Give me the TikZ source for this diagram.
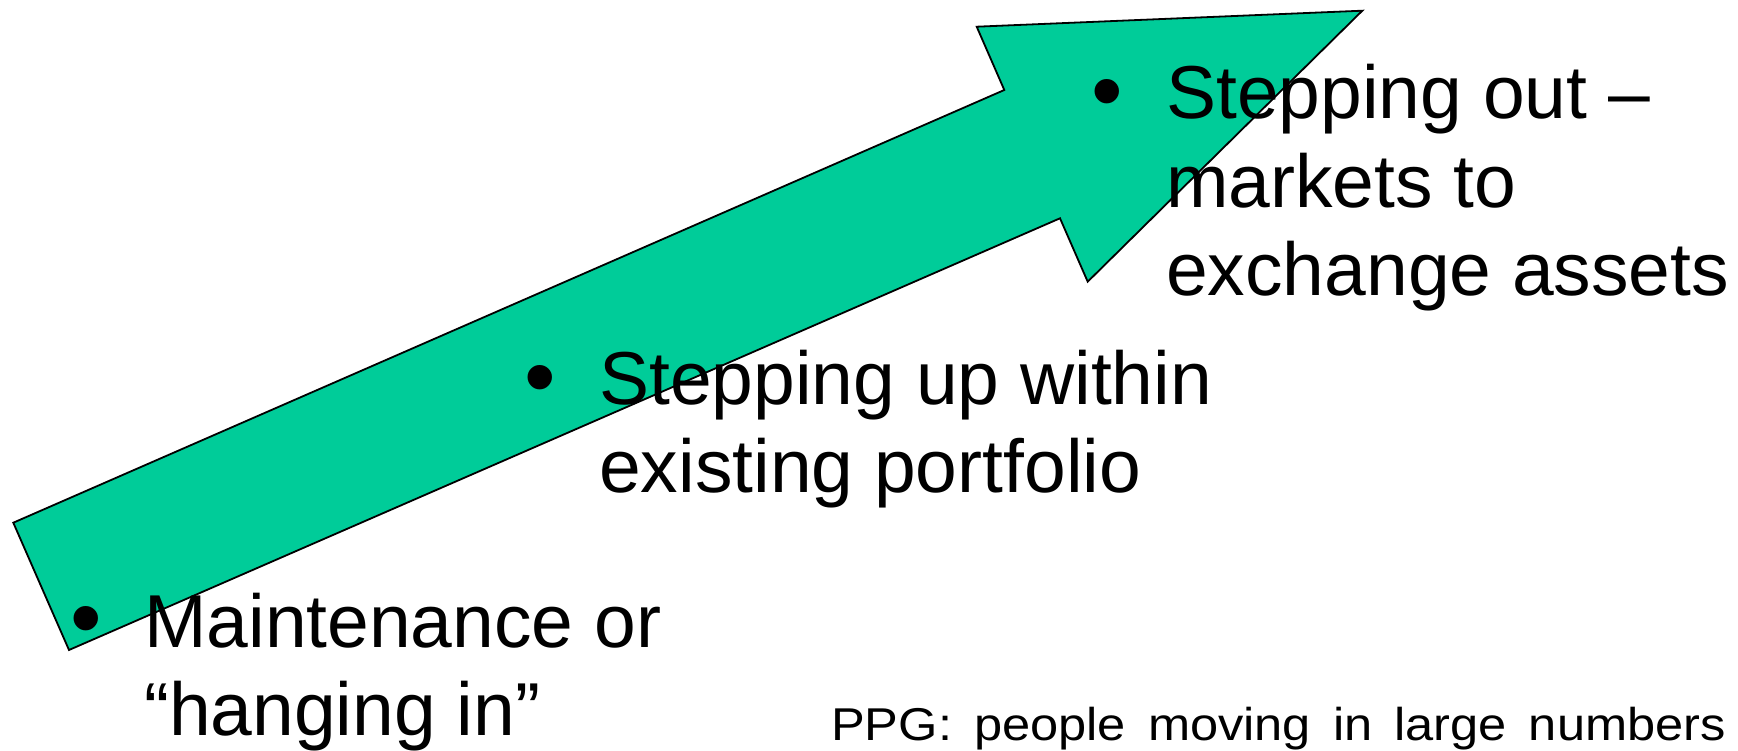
\documentclass[tikz,border=0pt]{standalone}
\usepackage{fontspec}
\setmainfont{Liberation Sans}
\definecolor{arrowgreen}{HTML}{00CC99}
\newcommand{\widespaced}[1]{\scalebox{1.1}[1]{\frenchspacing\spaceskip=20pt\relax #1}}
\tikzset{
  bigtext/.style={anchor=base west, inner sep=0pt, align=left, font=\fontsize{75}{88.5}\selectfont},
  bulletmark/.style={anchor=north, inner sep=0pt, font=\fontsize{90}{90}\selectfont},
  notetext/.style={anchor=base west, inner sep=0pt, font=\fontsize{46}{50}\selectfont},
  bigarrow/.style={fill=arrowgreen, draw=black, line width=1.8pt, line join=miter}
}
\begin{document}
\begin{tikzpicture}[x=1pt,y=-1pt]
\useasboundingbox (0,0) rectangle (1738,751);
% arrow shape
\coordinate (t1) at (13.3,522.7);
\coordinate (n1) at (1004.3,90);
\coordinate (h1) at (976.7,26.7);
\coordinate (tip) at (1362.3,10.7);
\coordinate (h2) at (1087.7,281.7);
\coordinate (n2) at (1060,218.3);
\coordinate (t2) at (69,650);
\draw[bigarrow] (t1) -- (n1) -- (h1) -- (tip) -- (h2) -- (n2) -- (t2) -- cycle;
% bullets (anchored at ink top) and texts (base anchor = baseline of last line)
\node[bulletmark] (b3) at (1107,79.5) {•};
\node[bigtext] (s3) at (1166,296) {Stepping out –\\markets to\\exchange assets};
\node[bulletmark] (b2) at (540,365.5) {•};
\node[bigtext] (s2) at (599,492.5) {Stepping up within\\existing portfolio};
\node[bulletmark] (b1) at (86,606.5) {•};
\node[bigtext] (s1) at (144,735.5) {Maintenance or\\“hanging in”};
\node[notetext] (ppg) at (831,740) {\widespaced{PPG: people moving in large numbers}};
\end{tikzpicture}
\end{document}
